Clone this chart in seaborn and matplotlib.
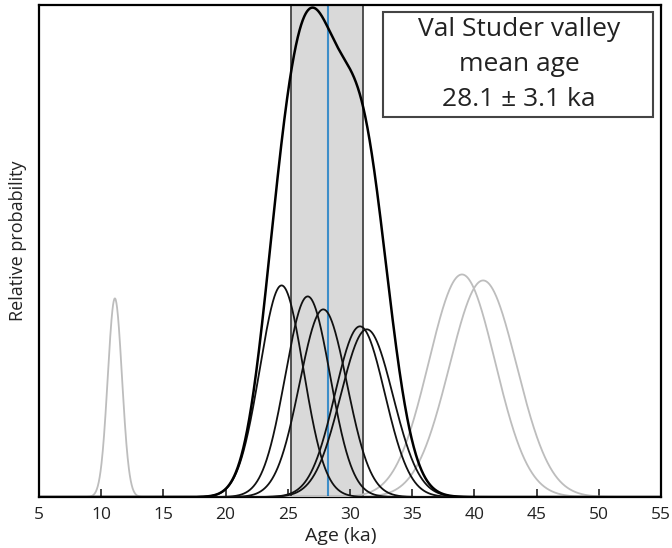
import numpy as np
import pandas as pd
import matplotlib
matplotlib.use("Agg")
import matplotlib.pyplot as plt
from matplotlib.patches import Rectangle
import seaborn as sns

# ---- data ----
black_means = [24.5, 26.6, 27.85, 30.8, 31.35]
black_sigmas = [1.75, 1.8, 1.9, 2.0, 2.1]
black_peaks = [0.212, 0.201, 0.188, 0.171, 0.168]

grey_means = [11.1, 39.0, 40.7]
grey_sigmas = [0.57, 2.67, 2.7]
grey_peaks = [0.199, 0.223, 0.217]

mean_age = 28.2
band_low = 25.25
band_high = 31.05
box_lines = ["Val Studer valley", "mean age", "28.1 \u00b1 3.1 ka"]
x_ticks = [5, 10, 15, 20, 25, 30, 35, 40, 45, 50, 55]
y_max = 0.493

sns.set_theme(style="white")
plt.rcParams['font.family'] = ['Open Sans', 'DejaVu Sans']

ages = np.linspace(5, 55, 2001)

def gauss(m, s, h):
    return h * np.exp(-0.5 * ((ages - m) / s) ** 2)

rows = []
for i, (m, s, h) in enumerate(zip(black_means, black_sigmas, black_peaks)):
    rows.append(pd.DataFrame({"age": ages, "p": gauss(m, s, h), "id": f"b{i}", "kind": "accepted"}))
for i, (m, s, h) in enumerate(zip(grey_means, grey_sigmas, grey_peaks)):
    rows.append(pd.DataFrame({"age": ages, "p": gauss(m, s, h), "id": f"g{i}", "kind": "outlier"}))
df = pd.concat(rows, ignore_index=True)
summed = df[df.kind == "accepted"].groupby("age", as_index=False)["p"].sum()

W, H = 672, 548
fig = plt.figure(figsize=(W / 100, H / 100), dpi=100)
ax = fig.add_axes([39 / W, 51 / H, 622 / W, 492 / H])

ax.axvspan(band_low, band_high, facecolor="#d9d9d9", edgecolor="none", zorder=0)
ax.axvline(band_low, color="#444444", lw=1.3, zorder=1)
ax.axvline(band_high, color="#444444", lw=1.3, zorder=1)
ax.axvline(mean_age, color="#3d8ec9", lw=1.5, zorder=2)

sns.lineplot(data=df[df.kind == "outlier"], x="age", y="p", units="id", estimator=None,
             color="#bdbdbd", lw=1.3, ax=ax, zorder=3)
sns.lineplot(data=df[df.kind == "accepted"], x="age", y="p", units="id", estimator=None,
             color="#111111", lw=1.3, ax=ax, zorder=4)
sns.lineplot(data=summed, x="age", y="p", color="#000000", lw=1.8, ax=ax, zorder=5)

ax.set_xlim(5, 55)
ax.set_ylim(0, y_max)
ax.set_xticks(x_ticks)
ax.set_xticklabels([str(t) for t in x_ticks], fontsize=12.5, color="#222222")
ax.set_yticks([])
ax.tick_params(axis="x", direction="in", length=6, width=1.2, color="#222222", pad=7, bottom=True, top=False)
for sp in ax.spines.values():
    sp.set_color("#000000")
    sp.set_linewidth(1.6)
ax.set_xlabel("Age (ka)", fontsize=14, color="#222222")
ax.xaxis.set_label_coords((341 - 39) / 622, -(536 - 497) / 492)
ax.xaxis.label.set_va("center")
ax.set_ylabel("Relative probability", fontsize=13, color="#222222")
ax.yaxis.set_label_coords((18 - 39) / 622, (497 - 241) / 492)
ax.yaxis.label.set_va("center")

# annotation box
fig.patches.append(Rectangle((383 / W, 1 - 117 / H), (653 - 383) / W, (117 - 12) / H,
                             transform=fig.transFigure, facecolor="white",
                             edgecolor="#444444", lw=1.5, zorder=10))
for line, yc in zip(box_lines, [30, 65, 100]):
    fig.text(519 / W, 1 - yc / H, line, ha="center", va="center",
             fontsize=19, color="#222222", zorder=11)

fig.savefig("out.png", dpi=100)
